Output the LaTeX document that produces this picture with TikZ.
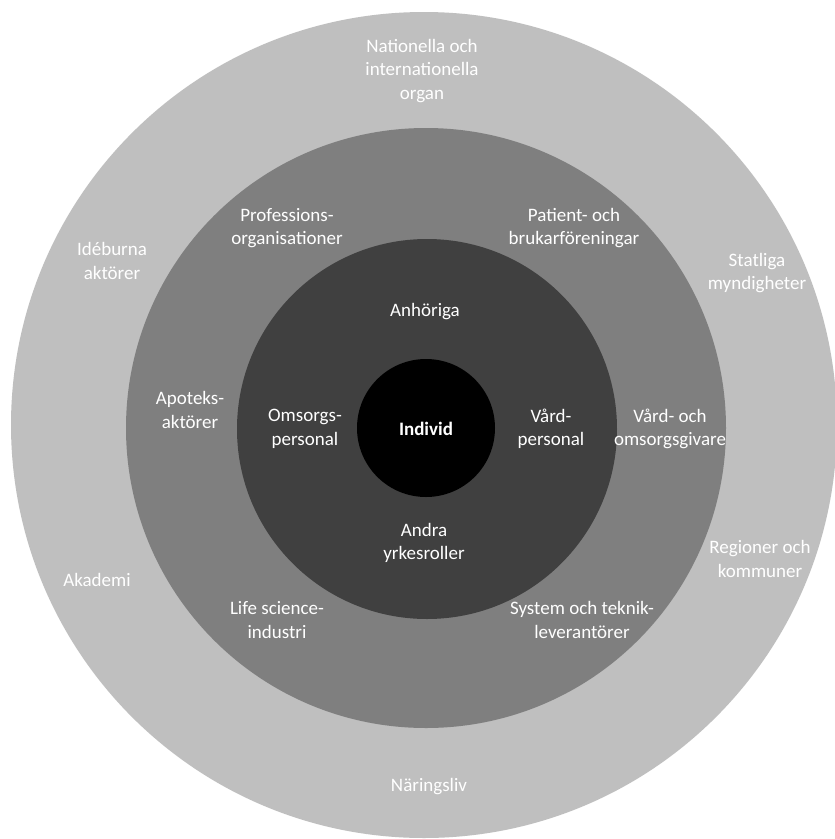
\documentclass[tikz,border=0pt]{standalone}
\usepackage{fontspec}
\setmainfont{Carlito}
\definecolor{ringA}{HTML}{BFBFBF}
\definecolor{ringB}{HTML}{7F7F7F}
\definecolor{ringC}{HTML}{404040}
\begin{document}
\begin{tikzpicture}[x=1pt,y=-1pt,
  lbl/.style={text=white,align=center,font=\fontsize{19}{23.5}\selectfont,inner sep=0pt}]
\useasboundingbox (0,0) rectangle (835,839);
\fill[white] (0,0) rectangle (835,839);
\fill[ringA] (424,425) circle[radius=413];
\fill[ringB] (426,428) circle[radius=300];
\fill[ringC] (427,429) circle[radius=190];
\fill[black] (426,428) circle[radius=69];
% outer ring
\node[lbl] (nat) at (422,71) {Nationella och\\internationella\\organ};
\node[lbl] (ide) at (112,261) {Idéburna\\aktörer};
\node[lbl] (sta) at (757,273) {Statliga\\myndigheter};
\node[lbl] (reg) at (760,559) {Regioner och\\kommuner};
\node[lbl] (aka) at (97,580) {Akademi};
\node[lbl] (nar) at (429,787) {Näringsliv};
% middle ring
\node[lbl] (pro) at (287,228) {Professions-\\organisationer};
\node[lbl] (pat) at (574,228) {Patient- och\\brukarföreningar};
\node[lbl] (apo) at (190,410) {Apoteks-\\aktörer};
\node[lbl] (vog) at (670,429) {Vård- och\\omsorgsgivare};
\node[lbl] (lif) at (277,620) {Life science-\\industri};
\node[lbl] (sys) at (582,620) {System och teknik-\\leverantörer};
% inner ring
\node[lbl] (anh) at (425,312) {Anhöriga};
\node[lbl] (oms) at (305,429) {Omsorgs-\\personal};
\node[lbl] (var) at (551,429) {Vård-\\personal};
\node[lbl] (and) at (424,543) {Andra\\yrkesroller};
% core
\node[lbl,font=\fontsize{19}{23.5}\selectfont\bfseries] (ind) at (426,429) {Individ};
\end{tikzpicture}
\end{document}
